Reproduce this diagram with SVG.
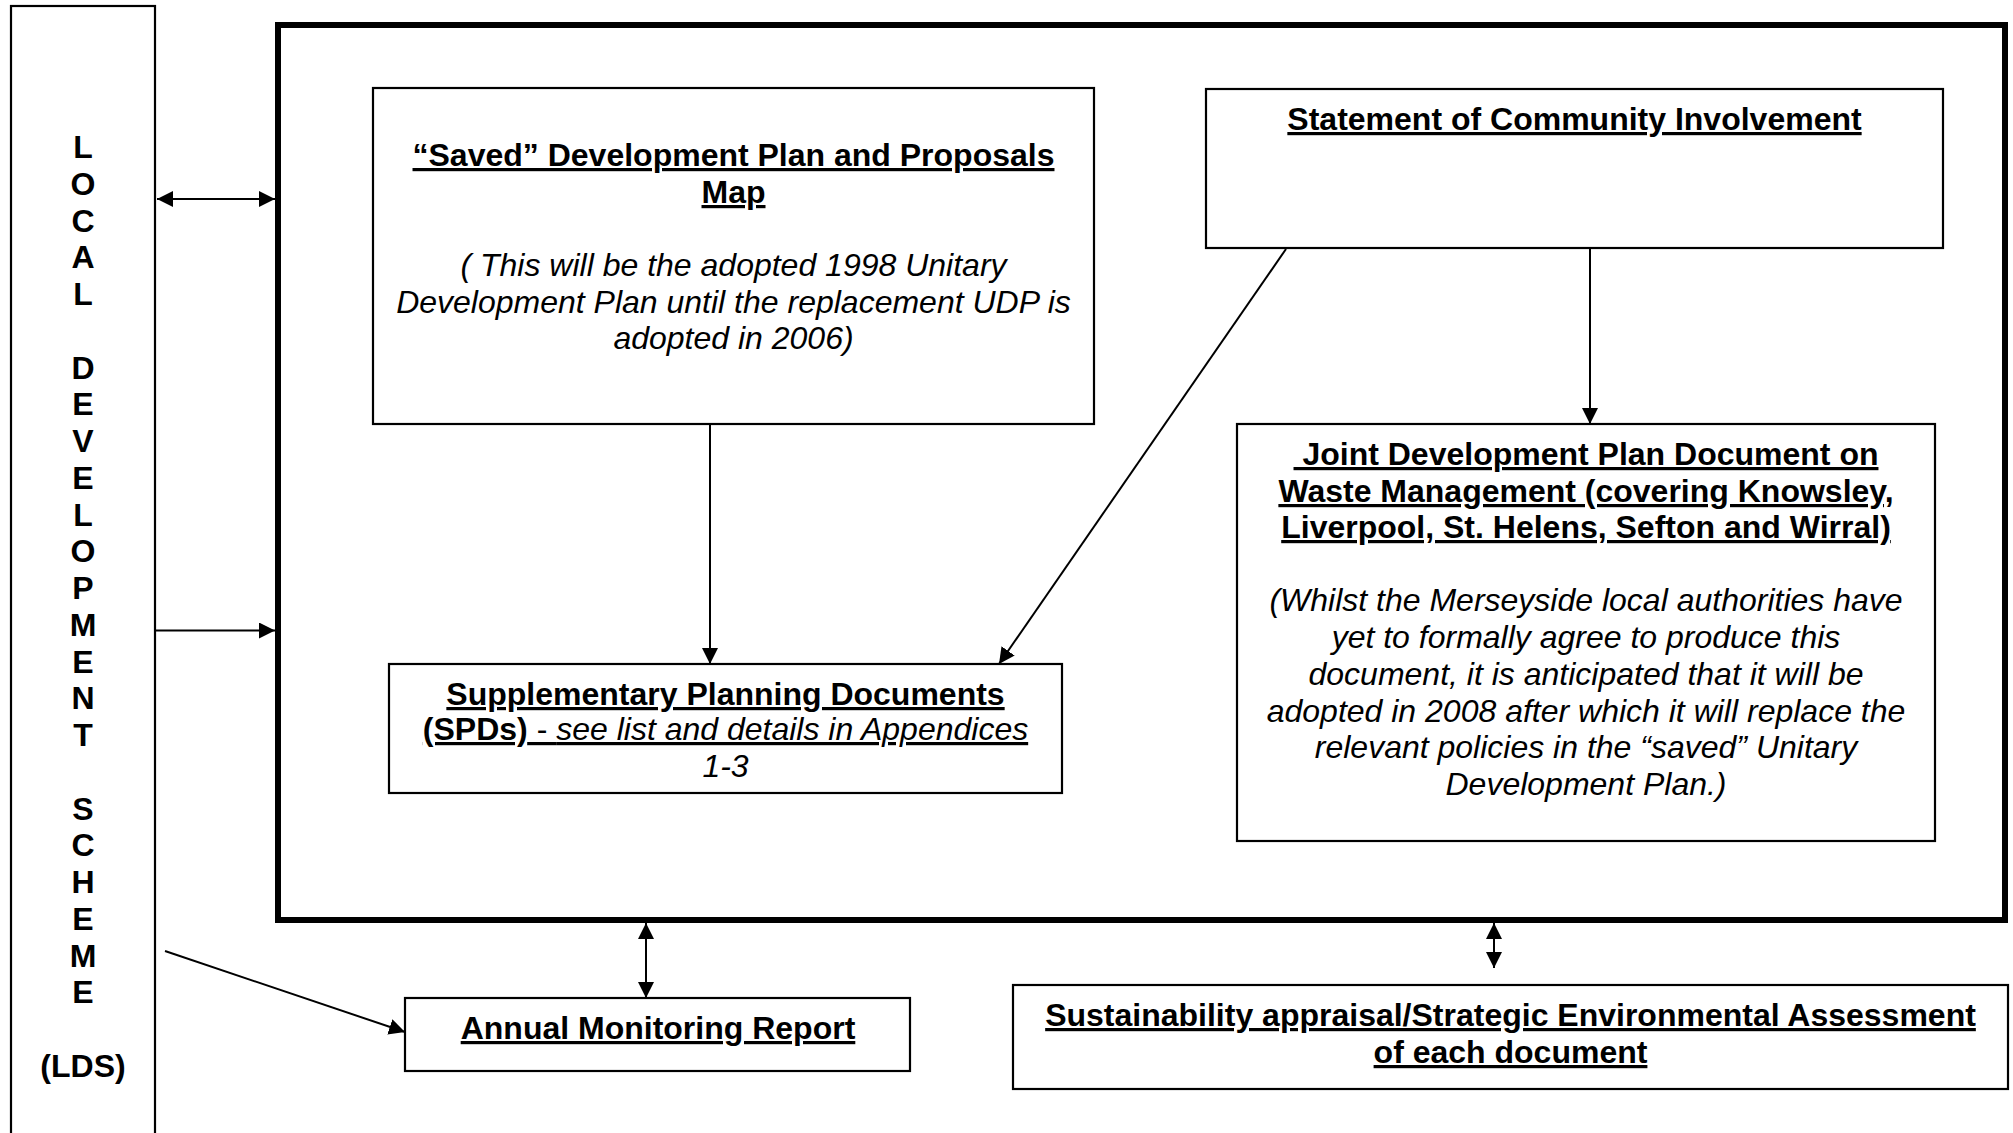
<svg xmlns="http://www.w3.org/2000/svg" width="2013" height="1133" viewBox="0 0 2013 1133">
<style>
.box{fill:#fff;stroke:#000;stroke-width:2.2}
.t{font-family:'Liberation Sans',Arial,sans-serif;font-size:32px;text-anchor:middle;fill:#000}
.b{font-weight:bold}
.i{font-style:italic}
.u{text-decoration:underline;text-decoration-thickness:3px;text-decoration-skip-ink:none}
.c{stroke:#000;stroke-width:2;fill:none}
</style>
<defs>
<marker id="ah" markerUnits="userSpaceOnUse" markerWidth="16" markerHeight="16" viewBox="0 0 16 16" refX="16" refY="8" orient="auto-start-reverse">
<path d="M0,0 L16,8 L0,16 Z" fill="#000"/>
</marker>
</defs>
<rect width="2013" height="1133" fill="#fff"/>

<g id="outer">
<rect x="278" y="25" width="1727" height="895" fill="none" stroke="#000" stroke-width="6"/>
</g>

<g id="lds">
<rect class="box" x="11" y="6" width="144" height="1140" stroke-width="2.5"/>
<text class="t b" y="158"><tspan x="83">L</tspan><tspan x="83" dy="36.75">O</tspan><tspan x="83" dy="36.75">C</tspan><tspan x="83" dy="36.75">A</tspan><tspan x="83" dy="36.75">L</tspan><tspan x="83" dy="73.5">D</tspan><tspan x="83" dy="36.75">E</tspan><tspan x="83" dy="36.75">V</tspan><tspan x="83" dy="36.75">E</tspan><tspan x="83" dy="36.75">L</tspan><tspan x="83" dy="36.75">O</tspan><tspan x="83" dy="36.75">P</tspan><tspan x="83" dy="36.75">M</tspan><tspan x="83" dy="36.75">E</tspan><tspan x="83" dy="36.75">N</tspan><tspan x="83" dy="36.75">T</tspan><tspan x="83" dy="73.5">S</tspan><tspan x="83" dy="36.75">C</tspan><tspan x="83" dy="36.75">H</tspan><tspan x="83" dy="36.75">E</tspan><tspan x="83" dy="36.75">M</tspan><tspan x="83" dy="36.75">E</tspan><tspan x="83" dy="73.5">(LDS)</tspan></text>
</g>

<g id="saved">
<rect class="box" x="373" y="88" width="721" height="336"/>
<text class="t b u" x="733.5" y="166">“Saved” Development Plan and Proposals</text>
<text class="t b u" x="733.5" y="203">Map</text>
<text class="t i" x="733.5" y="276">( This will be the adopted 1998 Unitary</text>
<text class="t i" x="733.5" y="313">Development Plan until the replacement UDP is</text>
<text class="t i" x="733.5" y="349">adopted in 2006)</text>
</g>

<g id="sci">
<rect class="box" x="1206" y="89" width="737" height="159"/>
<text class="t b u" x="1574.5" y="130">Statement of Community Involvement</text>
</g>

<g id="joint">
<rect class="box" x="1237" y="424" width="698" height="417"/>
<text class="t b u" x="1586" y="465">&#160;Joint Development Plan Document on</text>
<text class="t b u" x="1586" y="502">Waste Management (covering Knowsley,</text>
<text class="t b u" x="1586" y="538">Liverpool, St. Helens, Sefton and Wirral)</text>
<text class="t i" x="1586" y="611">(Whilst the Merseyside local authorities have</text>
<text class="t i" x="1586" y="648">yet to formally agree to produce this</text>
<text class="t i" x="1586" y="685">document, it is anticipated that it will be</text>
<text class="t i" x="1586" y="722">adopted in 2008 after which it will replace the</text>
<text class="t i" x="1586" y="758">relevant policies in the “saved” Unitary</text>
<text class="t i" x="1586" y="795">Development Plan.)</text>
</g>

<g id="spd">
<rect class="box" x="389" y="664" width="673" height="129"/>
<text class="t b u" x="725.5" y="705">Supplementary Planning Documents</text>
<text class="t u" x="725.5" y="740"><tspan font-weight="bold">(SPDs)</tspan> - <tspan font-style="italic">see list and details in Appendices</tspan></text>
<text class="t i" x="725.5" y="777">1-3</text>
</g>

<g id="amr">
<rect class="box" x="405" y="998" width="505" height="73" stroke-width="2.8"/>
<text class="t b u" x="658" y="1039">Annual Monitoring Report</text>
</g>

<g id="sa">
<rect class="box" x="1013" y="985" width="995" height="104"/>
<text class="t b u" x="1510.5" y="1026">Sustainability appraisal/Strategic Environmental Assessment</text>
<text class="t b u" x="1510.5" y="1063">of each document</text>
</g>

<g id="connectors">
<line class="c" x1="157" y1="199" x2="275" y2="199" marker-start="url(#ah)" marker-end="url(#ah)"/>
<line class="c" x1="156" y1="630.5" x2="275" y2="630.5" marker-end="url(#ah)"/>
<line class="c" x1="165" y1="951" x2="405" y2="1032" marker-end="url(#ah)"/>
<line class="c" x1="710" y1="424" x2="710" y2="664" marker-end="url(#ah)"/>
<line class="c" x1="1286" y1="249" x2="999" y2="664" marker-end="url(#ah)"/>
<line class="c" x1="1590" y1="248" x2="1590" y2="424" marker-end="url(#ah)"/>
<line class="c" x1="646" y1="923" x2="646" y2="998" marker-start="url(#ah)" marker-end="url(#ah)"/>
<line class="c" x1="1494" y1="923" x2="1494" y2="968" marker-start="url(#ah)" marker-end="url(#ah)"/>
</g>
</svg>
